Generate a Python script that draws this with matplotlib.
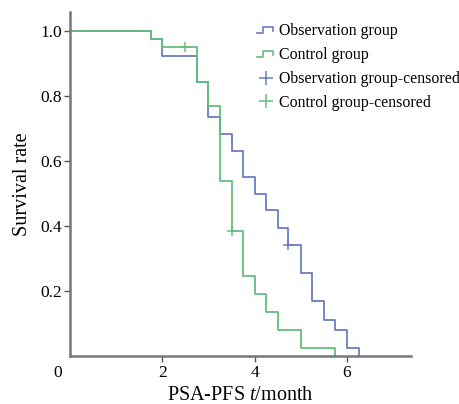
import matplotlib
matplotlib.use('Agg')
import matplotlib.pyplot as plt
from matplotlib.lines import Line2D
from matplotlib.legend_handler import HandlerBase

# step data (time in months, survival rate after the event)
obs_t = [0, 1.75, 2.0, 2.75, 3.0, 3.25, 3.5, 3.75, 4.0, 4.25, 4.5, 4.73, 5.0, 5.25, 5.5, 5.75, 6.0, 6.25]
obs_s = [1.0, 0.973, 0.921, 0.843, 0.736, 0.683, 0.631, 0.551, 0.499, 0.448, 0.395, 0.342, 0.256, 0.169, 0.113, 0.082, 0.026, 0.0]
ctl_t = [0, 1.75, 2.0, 2.75, 3.0, 3.25, 3.5, 3.75, 4.0, 4.25, 4.5, 5.0, 5.75]
ctl_s = [1.0, 0.973, 0.951, 0.843, 0.769, 0.538, 0.385, 0.248, 0.193, 0.1375, 0.081, 0.026, 0.0]

obs_cens_t = [4.73]
obs_cens_s = [0.342]
ctl_cens_t = [2.5, 3.5]
ctl_cens_s = [0.951, 0.385]

blue = '#6a7dbf'
green = '#62bf7c'


class StepHandler(HandlerBase):
    ''' Small step-shaped legend icon: low, up, high, down'''
    def create_artists(self, legend, orig_handle, xdescent, ydescent,
                       width, height, fontsize, trans):
        x0 = -xdescent
        y0 = -ydescent
        lo = y0 + height * 0.2
        hi = y0 + height * 0.75
        xs = [x0, x0 + width * 0.35, x0 + width * 0.35, x0 + width * 0.95, x0 + width * 0.95]
        ys = [lo, lo, hi, hi, lo + (hi - lo) * 0.3]
        ln = Line2D(xs, ys, color=orig_handle.get_color(), linewidth=1.2, transform=trans)
        return [ln]


plt.rcParams['font.family'] = ['Liberation Serif', 'DejaVu Serif']
plt.rcParams['mathtext.fontset'] = 'custom'
plt.rcParams['mathtext.it'] = 'Liberation Serif:italic'
plt.rcParams['mathtext.rm'] = 'Liberation Serif'

fig = plt.figure(figsize=(4.6, 4.04), dpi=100)
ax = fig.add_axes([0.152, 0.1176, 0.741, 0.8534])

l1, = ax.step(obs_t, obs_s, where='post', color=blue, linewidth=1.3)
l2, = ax.step(ctl_t, ctl_s, where='post', color=green, linewidth=1.3)
m1, = ax.plot(obs_cens_t, obs_cens_s, '+', color=blue, markersize=7, markeredgewidth=1.1, linestyle='none')
m2, = ax.plot(ctl_cens_t, ctl_cens_s, '+', color=green, markersize=7, markeredgewidth=1.1, linestyle='none')

ax.set_xlim(0, 7.38)
ax.set_ylim(0, 1.058)
ax.set_xticks([2, 4, 6])
ax.set_yticks([0.2, 0.4, 0.6, 0.8, 1.0])
ax.set_yticklabels(['0.2', '0.4', '0.6', '0.8', '1.0'])
ax.tick_params(axis='both', direction='out', length=4, width=1, color='#555555',
               labelsize=12.5, labelcolor='black', pad=2)

for side in ['top', 'right']:
    ax.spines[side].set_visible(False)
for side in ['left', 'bottom']:
    ax.spines[side].set_color('#777777')
    ax.spines[side].set_linewidth(1.8)

# the "0" at the origin corner
ax.annotate('0', xy=(0, 0), xytext=(-8.5, -6), textcoords='offset points',
            ha='center', va='top', fontsize=12.5)

ax.set_xlabel('PSA-PFS $t$/month', fontsize=14.5, labelpad=4)
ax.set_ylabel('Survival rate', fontsize=14.5, labelpad=6)

leg = ax.legend([l1, l2, m1, m2],
                ['Observation group', 'Control group',
                 'Observation group-censored', 'Control group-censored'],
                handler_map={l1: StepHandler(), l2: StepHandler()},
                loc='upper left', bbox_to_anchor=(0.53, 0.985), frameon=False,
                fontsize=11.4, handlelength=1.1, handletextpad=0.3,
                labelspacing=0.5, borderaxespad=0, markerscale=1.4)

plt.savefig('out.png', dpi=100)
plt.close()
